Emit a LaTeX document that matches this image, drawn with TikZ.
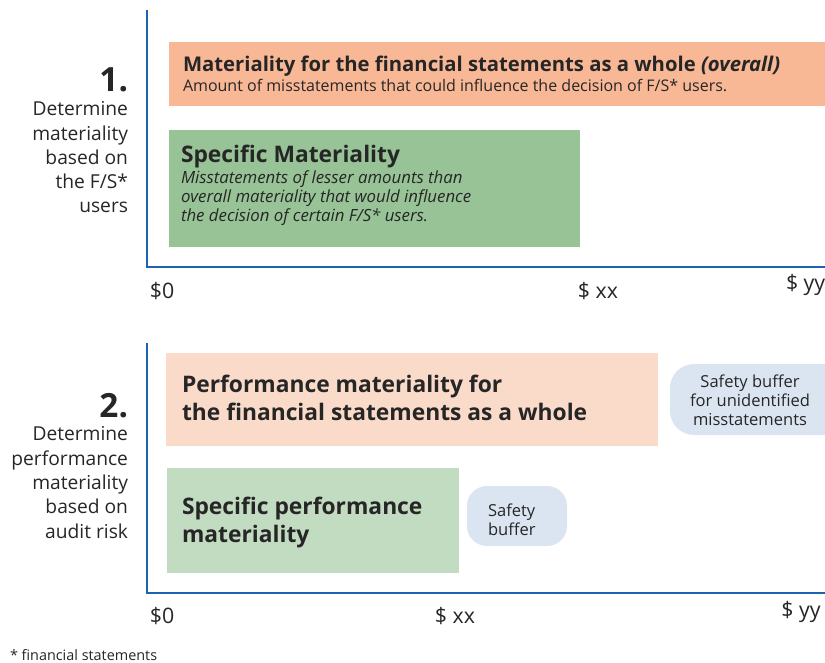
\documentclass[tikz,border=0pt]{standalone}
\usepackage{fontspec}
\setmainfont{Open Sans}
\definecolor{axisblue}{HTML}{1B63B0}
\definecolor{orA}{HTML}{F8B896}
\definecolor{grA}{HTML}{97C396}
\definecolor{orB}{HTML}{FADBCA}
\definecolor{grB}{HTML}{C2DCC2}
\definecolor{buf}{HTML}{DBE5F1}
\definecolor{ink}{HTML}{262626}
\begin{document}
\begin{tikzpicture}[x=0.75pt,y=-0.75pt,
  every node/.style={inner sep=0pt,outer sep=0pt,text=ink},
  axisline/.style={draw=axisblue,line width=1.8pt},
  numlbl/.style={anchor=base east,font=\fontsize{25}{28}\selectfont\bfseries},
  sidelbl/.style={anchor=base east,align=right,font=\fontsize{14.4}{18.2}\selectfont},
  boxtitle/.style={anchor=base west,align=left,font=\fontsize{15.2}{20.3}\selectfont\bfseries},
  bigtitle/.style={anchor=base west,align=left,font=\fontsize{17.1}{20.3}\selectfont\bfseries},
  boxsub/.style={anchor=base west,align=left,font=\fontsize{12}{14.3}\selectfont},
  ticklbl/.style={anchor=base,font=\fontsize{16}{18}\selectfont},
  buftxt/.style={anchor=base,align=center,font=\fontsize{12.4}{14.1}\selectfont}
]
\useasboundingbox (0,0) rectangle (825,663);
% ---------- section 1 ----------
\fill[orA] (169,42) rectangle (830,106);
\fill[grA] (169,130) rectangle (580,247);
\draw[axisline] (147,10) -- (147,267) -- (830,267);
\node[boxtitle] (t1) at (183,72) {Materiality for the financial statements as a whole \textit{(overall)}};
\node[boxsub] (s1) at (183,92) {Amount of misstatements that could influence the decision of F/S* users.};
\node[bigtitle] (t2) at (181,163) {Specific Materiality};
\node[anchor=base west,align=left,font=\fontsize{12.6}{14.3}\selectfont\itshape] (s2) at (181,222) {Misstatements of lesser amounts than\\overall materiality that would influence\\the decision of certain F/S* users.};
\node[numlbl] (n1) at (128,92) {1.};
\node[sidelbl] (l1) at (128,213) {Determine\\materiality\\based on\\the F/S*\\users};
\node[ticklbl] (a0) at (162,298) {\$0};
\node[ticklbl] (ax) at (598,298) {\$ xx};
\node[ticklbl,anchor=base west] (ay) at (786,291) {\$ yy};
% ---------- section 2 ----------
\fill[orB] (166,353) rectangle (658,446);
\fill[grB] (167,468) rectangle (459,573);
\fill[buf,rounded corners=18pt] (670,364) rectangle (860,435);
\fill[buf,rounded corners=15pt] (467,486) rectangle (567,546);
\draw[axisline] (147,343) -- (147,593) -- (830,593);
\node[bigtitle] (t3) at (182,420) {Performance materiality for\\the financial statements as a whole};
\node[bigtitle] (t4) at (182,542) {Specific performance\\materiality};
\node[buftxt] (b1) at (750,425) {Safety buffer\\for unidentified\\misstatements};
\node[buftxt,anchor=base west,align=left] (b2) at (488,535) {Safety\\buffer};
\node[numlbl] (n2) at (128,417) {2.};
\node[sidelbl] (l2) at (128,538) {Determine\\performance\\materiality\\based on\\audit risk};
\node[ticklbl] (c0) at (162,623) {\$0};
\node[ticklbl] (cx) at (455,623) {\$ xx};
\node[ticklbl] (cy) at (801,617) {\$ yy};
\node[anchor=base west,font=\fontsize{10.8}{12}\selectfont] (fn) at (10,660) {* financial statements};
\end{tikzpicture}
\end{document}
